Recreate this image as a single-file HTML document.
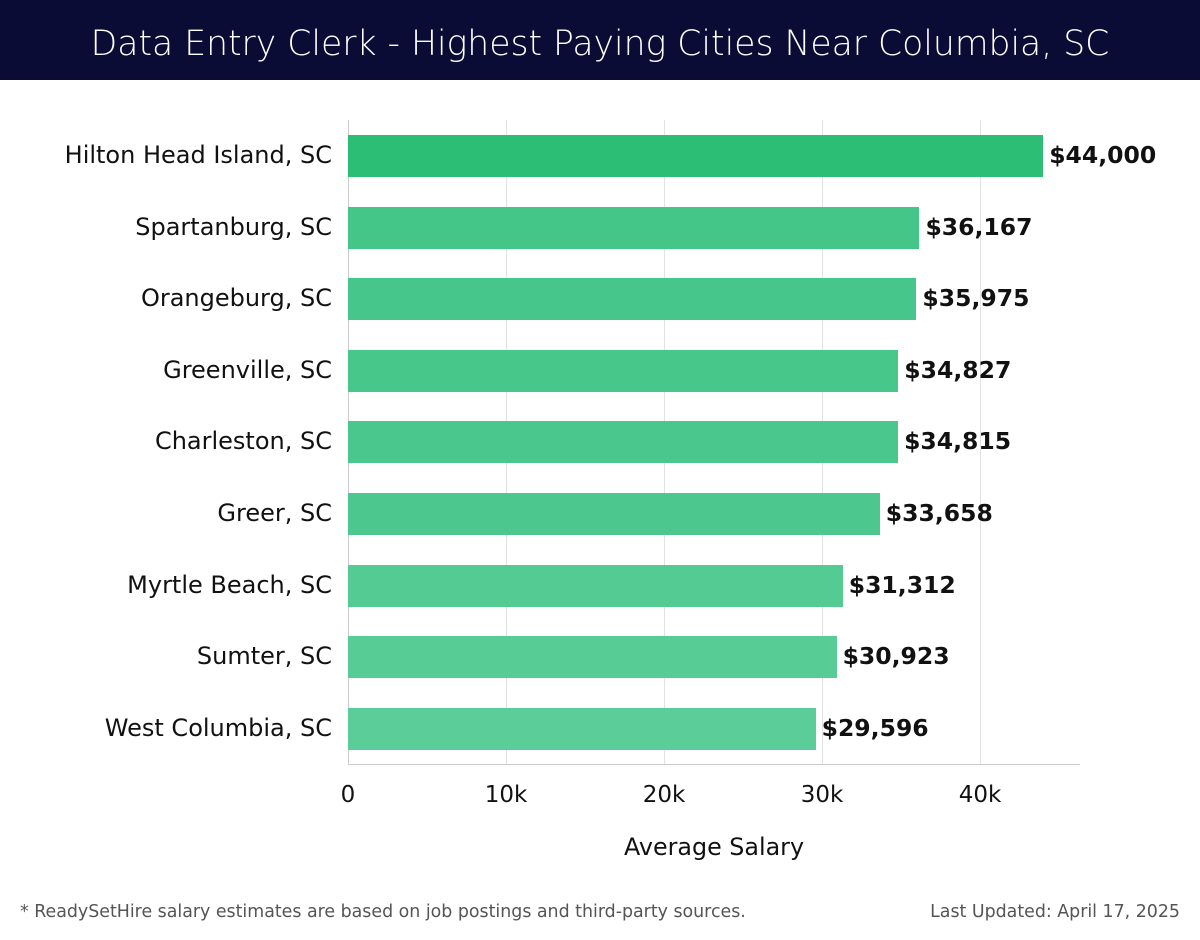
<!DOCTYPE html><html><head><style>
body{margin:0;width:1200px;height:940px;background:#fff;font-family:"DejaVu Sans","Liberation Sans",sans-serif;position:relative;overflow:hidden}
.t{position:absolute;left:0;top:0;width:1200px;height:80px;background:#0b0c36;color:#fff;font-size:34.6px;text-align:center;line-height:88px;font-weight:300}
.g{position:absolute;top:120px;height:644px;width:1px;background:#e2e2e2}
.b{position:absolute;left:348px;height:42px}
.l{position:absolute;right:868px;font-size:24px;color:#111;text-align:right;white-space:nowrap}
.v{position:absolute;font-size:23.5px;font-weight:bold;color:#111}
.x{position:absolute;top:782px;font-size:23px;color:#111;width:80px;text-align:center}
.f{position:absolute;top:902px;font-size:17.4px;color:#555}
</style></head><body>
<div class="t">Data Entry Clerk - Highest Paying Cities Near Columbia, SC</div>
<div class="g" style="left:348px;background:#ccc"></div>
<div class="g" style="left:506px"></div><div class="g" style="left:664px"></div><div class="g" style="left:822px"></div><div class="g" style="left:980px"></div>
<div style="position:absolute;left:348px;top:764px;width:732px;height:1px;background:#ccc"></div>
<div id="c"></div>
<div class="x" style="left:308px">0</div><div class="x" style="left:466px">10k</div><div class="x" style="left:624px">20k</div><div class="x" style="left:782px">30k</div><div class="x" style="left:940px">40k</div>
<div style="position:absolute;left:624px;top:833px;font-size:23.8px;color:#111">Average Salary</div>
<div class="f" style="left:20px">* ReadySetHire salary estimates are based on job postings and third-party sources.</div>
<div class="f" style="right:20px">Last Updated: April 17, 2025</div>
<script>
var d=[["Hilton Head Island, SC",44000,"#2bbe74"],["Spartanburg, SC",36167,"#45c689"],["Orangeburg, SC",35975,"#46c68a"],["Greenville, SC",34827,"#48c78b"],["Charleston, SC",34815,"#49c78c"],["Greer, SC",33658,"#4cc88e"],["Myrtle Beach, SC",31312,"#55cb94"],["Sumter, SC",30923,"#57cc95"],["West Columbia, SC",29596,"#5bcd98"]];
var h="";d.forEach(function(r,i){var t=135+71.6*i,w=r[1]*0.0158;
h+='<div class="b" style="top:'+t+'px;width:'+w+'px;background:'+r[2]+'"></div>';
h+='<div class="l" style="top:'+(t+6)+'px">'+r[0]+'</div>';
h+='<div class="v" style="left:'+(348+w+6)+'px;top:'+(t+6)+'px">$'+r[1].toLocaleString("en-US")+'</div>';});
document.getElementById("c").innerHTML=h;
</script></body></html>
